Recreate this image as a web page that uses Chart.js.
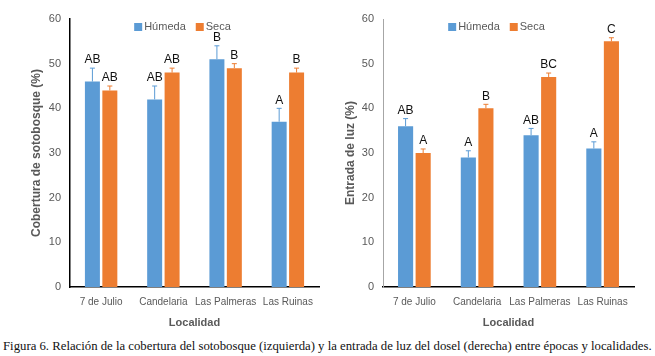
<!DOCTYPE html>
<html>
<head>
<meta charset="utf-8">
<script src="https://cdn.jsdelivr.net/npm/chart.js@4"></script>
<style>
  body { margin: 0; background: #fff; width: 655px; height: 356px; position: relative; overflow: hidden; }
  canvas { position: absolute; top: 0; }
  #left { left: 0; }
  #right { left: 330px; }
  #caption {
    position: absolute; left: 3px; top: 339px; white-space: nowrap;
    font-family: "Liberation Serif", serif; font-size: 12.75px; color: #111;
  }
</style>
</head>
<body>
<canvas id="left" width="330" height="335"></canvas>
<canvas id="right" width="325" height="335"></canvas>
<div id="caption">Figura 6. Relación de la cobertura del sotobosque (izquierda) y la entrada de luz del dosel (derecha) entre épocas y localidades.</div>
<script>
const localidades = ['7 de Julio', 'Candelaria', 'Las Palmeras', 'Las Ruinas'];
const yTicks = [0, 10, 20, 30, 40, 50, 60];

// cobertura de sotobosque (izquierda)
const coberturaHumeda = [46, 42, 51, 37];
const coberturaHumedaErr = [3, 3, 3, 3];
const coberturaHumedaLetras = ['AB', 'AB', 'B', 'A'];
const coberturaSeca = [44, 48, 49, 48];
const coberturaSecaErr = [1, 1, 1, 1];
const coberturaSecaLetras = ['AB', 'AB', 'B', 'B'];

// entrada de luz (derecha)
const luzHumeda = [36, 29, 34, 31];
const luzHumedaErr = [1.7, 1.5, 1.5, 1.5];
const luzHumedaLetras = ['AB', 'A', 'AB', 'A'];
const luzSeca = [30, 40, 47, 55];
const luzSecaErr = [0.9, 0.9, 0.9, 0.8];
const luzSecaLetras = ['A', 'B', 'BC', 'C'];

const AZUL = '#5b9bd5';
const NARANJA = '#ed7d31';
const GRIS = '#595959';
const FAMILIA = '"Liberation Sans", Arial, sans-serif';

const errorBars = {
  id: 'errorBars',
  afterDatasetsDraw(chart) {
    const { ctx } = chart;
    const y = chart.scales.y;
    chart.data.datasets.forEach((ds, i) => {
      const meta = chart.getDatasetMeta(i);
      meta.data.forEach((bar, j) => {
        const top = y.getPixelForValue(ds.data[j] + ds.errors[j]);
        ctx.save();
        ctx.strokeStyle = ds.backgroundColor;
        ctx.lineWidth = 1;
        ctx.beginPath();
        ctx.moveTo(bar.x, bar.y);
        ctx.lineTo(bar.x, top);
        ctx.moveTo(bar.x - 2.5, top);
        ctx.lineTo(bar.x + 2.5, top);
        ctx.stroke();
        ctx.fillStyle = '#111';
        ctx.font = '12px ' + FAMILIA;
        ctx.textAlign = 'center';
        ctx.textBaseline = 'bottom';
        ctx.fillText(ds.letters[j], bar.x, top - 2);
        ctx.restore();
      });
    });
  },
};

const legendInside = {
  id: 'legendInside',
  afterDraw(chart) {
    const { ctx, chartArea } = chart;
    ctx.save();
    ctx.font = '11px ' + FAMILIA;
    ctx.textBaseline = 'middle';
    const items = chart.data.datasets.map((ds) => ({ label: ds.label, color: ds.backgroundColor, w: ctx.measureText(ds.label).width }));
    const total = items.reduce((s, it) => s + 10 + it.w, 0) + 10 * (items.length - 1);
    let x = (chartArea.left + chartArea.right) / 2 - 12 - total / 2;
    const yc = chartArea.top + 8;
    items.forEach((it) => {
      ctx.fillStyle = it.color;
      ctx.fillRect(x, yc - 4, 8, 8);
      ctx.fillStyle = GRIS;
      ctx.fillText(it.label, x + 10, yc);
      x += 10 + it.w + 10;
    });
    ctx.restore();
  },
};

function makeChart(canvas, cfg) {
  return new Chart(canvas, {
    type: 'bar',
    data: {
      labels: localidades,
      datasets: [
        { label: 'Húmeda', data: cfg.humeda, errors: cfg.humedaErr, letters: cfg.humedaLetras, backgroundColor: AZUL },
        { label: 'Seca', data: cfg.seca, errors: cfg.secaErr, letters: cfg.secaLetras, backgroundColor: NARANJA },
      ],
    },
    options: {
      responsive: false,
      animation: false,
      layout: { padding: { left: 0, top: 19, right: cfg.padRight, bottom: 5 } },
      datasets: { bar: { categoryPercentage: 0.56, barPercentage: 0.86 } },
      plugins: { legend: { display: false }, tooltip: { enabled: false } },
      scales: {
        x: {
          grid: { display: false, drawTicks: false },
          border: { color: '#000', width: 1.5 },
          ticks: { color: GRIS, padding: 9, maxRotation: 0, minRotation: 0, autoSkip: false, font: { size: 10, family: FAMILIA } },
          title: { display: true, text: 'Localidad', color: GRIS, padding: { top: 0, bottom: 0 }, font: { size: 11, weight: 'bold', family: FAMILIA } },
          afterFit: (s) => { s.height = 43; },
        },
        y: {
          min: 0,
          max: 60,
          afterBuildTicks: (s) => { s.ticks = yTicks.map((v) => ({ value: v })); },
          grid: { display: false, drawTicks: false },
          border: { color: cfg.yBorder, width: cfg.yBorderWidth },
          ticks: { color: GRIS, padding: 9, font: { size: 11, family: FAMILIA } },
          title: { display: true, text: cfg.yTitle, color: GRIS, padding: { top: cfg.titlePad, bottom: 0 }, font: { size: 12, weight: 'bold', family: FAMILIA } },
          afterFit: (s) => { s.width = cfg.yWidth; },
        },
      },
    },
    plugins: [errorBars, legendInside],
  });
}

makeChart(document.getElementById('left'), {
  humeda: coberturaHumeda, humedaErr: coberturaHumedaErr, humedaLetras: coberturaHumedaLetras,
  seca: coberturaSeca, secaErr: coberturaSecaErr, secaLetras: coberturaSecaLetras,
  yTitle: 'Cobertura de sotobosque (%)', yWidth: 70, padRight: 11, titlePad: 29,
  yBorder: '#000', yBorderWidth: 1.5,
});

makeChart(document.getElementById('right'), {
  humeda: luzHumeda, humedaErr: luzHumedaErr, humedaLetras: luzHumedaLetras,
  seca: luzSeca, secaErr: luzSecaErr, secaLetras: luzSecaLetras,
  yTitle: 'Entrada de luz (%)', yWidth: 53, padRight: 21, titlePad: 13,
  yBorder: '#a6a6a6', yBorderWidth: 1,
});
</script>
</body>
</html>
